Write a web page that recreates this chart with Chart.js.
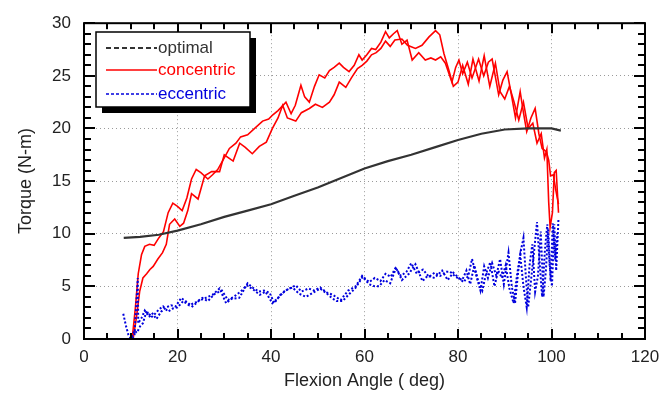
<!DOCTYPE html>
<html>
<head>
  <meta http-equiv="Content-type" content="text/html; charset=utf-8">
  <title>Torque vs Flexion Angle</title>
  <style>
    html, body { margin: 0; padding: 0; background: #fff; }
    #wrap { width: 668px; height: 396px; }
  </style>
</head>
<body>
  <div id="wrap">
    <canvas id="canvas" width="668" height="396"></canvas>
  </div>

  <script src="https://cdn.jsdelivr.net/npm/chart.js"></script>

  <script>
    // optimal torque curve
    const optimalX = [8.5, 12, 16, 20, 25, 30, 35, 40, 45, 50, 55, 60, 65, 70, 75, 80, 85, 90, 95, 100, 102];
    const optimalY = [9.6, 9.7, 9.9, 10.3, 10.9, 11.6, 12.2, 12.8, 13.6, 14.4, 15.3, 16.2, 16.9, 17.5, 18.2, 18.9, 19.5, 19.9, 20.0, 20.0, 19.8];

    // concentric, first trial
    const conc1X = [10.3, 11.0, 11.6, 12.3, 13.0, 14.0, 15.0, 16.0, 17.0, 18.0, 19.0, 20.0, 21.0, 22.0, 23.0, 24.0, 25.0, 26.5, 27.5, 28.6, 30.0, 31.1, 32.5, 33.5, 35.0, 36.5, 38.2, 39.5, 40.4, 41.5, 43.2, 44.3, 45.2, 46.4, 47.2, 48.2, 49.3, 50.3, 51.5, 52.5, 53.5, 54.6, 55.5, 56.7, 57.8, 58.8, 59.5, 60.5, 61.5, 62.4, 63.5, 64.5, 65.3, 66.2, 67.0, 68.0, 69.1, 70.2, 71.6, 73.0, 74.2, 75.2, 76.3, 77.3, 78.7, 79.5, 80.2, 81.0, 82.0, 83.0, 84.4, 85.5, 86.5, 87.3, 88.7, 89.6, 90.5, 91.5, 92.3, 93.3, 94.0, 94.7, 95.6, 96.5, 97.3, 98.0, 98.9, 99.4, 99.8, 100.4, 100.9, 101.5];
    const conc1Y = [0, 3.0, 6.2, 8.0, 8.8, 9.0, 8.9, 9.6, 10.2, 12.0, 12.9, 12.6, 12.2, 13.4, 15.2, 16.1, 15.8, 15.2, 15.6, 16.1, 17.2, 18.1, 18.6, 19.2, 19.4, 20.0, 20.7, 20.9, 21.3, 21.7, 22.5, 21.4, 22.2, 24.1, 23.0, 22.5, 24.0, 25.1, 24.8, 25.5, 25.8, 26.2, 25.8, 25.4, 26.0, 27.0, 26.5, 27.0, 27.6, 27.5, 28.2, 29.2, 28.6, 29.0, 29.3, 28.0, 28.4, 26.5, 27.2, 26.5, 26.7, 26.5, 26.8, 26.2, 24.4, 25.8, 26.5, 25.2, 26.3, 24.8, 26.6, 25.0, 26.3, 26.6, 23.2, 24.6, 25.4, 23.0, 21.0, 23.5, 21.5, 19.7, 21.0, 21.9, 19.5, 18.1, 17.8, 17.0, 15.5, 15.6, 14.2, 12.8];

    // concentric, second trial
    const conc2X = [10.5, 11.2, 11.9, 12.6, 13.4, 14.1, 14.8, 15.8, 16.8, 17.6, 18.3, 19.4, 20.5, 21.3, 22.2, 23.0, 24.4, 25.8, 27.3, 29.0, 30.0, 31.9, 33.3, 34.5, 36.0, 37.5, 39.0, 40.3, 41.5, 42.5, 43.5, 45.3, 46.5, 48.2, 49.5, 51.0, 52.5, 53.5, 54.6, 56.0, 57.2, 58.5, 59.5, 60.5, 61.5, 62.5, 63.5, 64.5, 65.5, 66.5, 68.0, 69.2, 70.9, 72.3, 73.8, 75.2, 76.1, 77.0, 78.0, 79.0, 80.0, 81.0, 82.2, 83.2, 84.5, 85.6, 86.8, 88.0, 89.0, 90.0, 91.0, 92.0, 93.0, 94.0, 95.0, 96.0, 96.9, 97.8, 98.5, 99.0, 99.4, 99.7, 100.2, 100.6, 101.0, 101.5];
    const conc2Y = [0, 2.0, 4.5, 5.8, 6.2, 6.6, 6.9, 7.6, 8.2, 9.0, 10.9, 11.4, 10.7, 11.0, 12.2, 13.8, 13.3, 15.5, 15.9, 15.9, 17.5, 16.9, 18.6, 18.2, 17.6, 18.3, 18.7, 20.0, 21.0, 22.2, 21.0, 20.7, 21.5, 21.9, 22.3, 22.0, 22.5, 23.2, 24.4, 23.9, 24.8, 25.7, 26.0, 26.4, 27.0, 27.2, 27.6, 28.3, 27.8, 28.4, 28.5, 27.9, 27.6, 27.9, 28.7, 29.3, 28.9, 27.1, 25.6, 24.0, 24.4, 26.0, 24.2, 26.6, 24.5, 26.9, 24.0, 26.2, 23.5, 22.8, 24.0, 22.5, 20.8, 22.5, 20.0, 20.5, 18.6, 19.5, 17.2, 18.0, 13.0, 10.6, 12.0, 15.8, 16.0, 12.0];

    // eccentric, first trial
    const ecc1X = [8.4, 9.0, 9.5, 10.1, 10.8, 11.5, 11.6, 12.3, 13.0, 13.8, 14.5, 15.5, 16.5, 17.6, 18.6, 19.6, 20.8, 22.0, 23.2, 24.5, 26.0, 27.5, 29.0, 30.4, 31.5, 33.2, 35.0, 36.0, 37.4, 38.5, 39.7, 40.7, 42.0, 43.5, 45.3, 46.5, 48.0, 49.2, 50.5, 52.0, 53.2, 54.9, 56.5, 58.1, 59.5, 61.0, 62.2, 63.4, 64.5, 65.6, 66.7, 68.0, 69.5, 70.9, 72.4, 73.5, 75.0, 76.6, 77.8, 79.0, 80.2, 81.2, 82.2, 83.0, 83.8, 84.8, 85.6, 86.4, 87.3, 88.2, 89.0, 89.8, 90.8, 91.5, 92.2, 92.9, 93.5, 94.0, 94.5, 95.0, 95.6, 96.2, 96.9, 97.5, 98.0, 98.6, 99.1, 99.6, 100.1, 100.6, 101.0, 101.5];
    const ecc1Y = [2.4, 1.2, 0.4, 0.0, 0.3, 5.8, 1.5, 2.0, 2.7, 2.2, 2.5, 1.9, 2.6, 3.0, 3.2, 3.1, 3.9, 3.5, 3.1, 3.6, 3.9, 4.2, 4.8, 3.4, 3.8, 3.9, 5.3, 4.9, 4.5, 4.6, 4.4, 3.4, 4.2, 4.7, 5.1, 4.5, 4.8, 4.6, 4.9, 4.4, 4.2, 3.7, 4.6, 5.0, 6.0, 5.4, 5.8, 5.5, 6.2, 5.9, 6.8, 5.6, 6.2, 7.1, 5.5, 6.0, 5.8, 6.5, 5.6, 6.3, 5.8, 5.4, 6.0, 7.6, 6.2, 4.6, 6.9, 5.8, 7.2, 6.0, 7.6, 5.2, 8.2, 5.0, 3.4, 6.5, 8.5, 9.6, 6.0, 3.0, 5.5, 8.0, 11.1, 7.0, 4.0, 8.5, 10.9, 7.0, 5.0, 10.9, 6.5, 11.5];

    // eccentric, second trial
    const ecc2X = [10.2, 10.8, 11.3, 12.0, 12.6, 13.4, 14.2, 15.0, 16.0, 16.9, 18.0, 19.0, 20.0, 21.2, 22.5, 24.0, 25.3, 26.5, 28.0, 29.5, 30.8, 32.0, 33.5, 34.8, 36.2, 37.6, 38.8, 40.3, 41.5, 43.0, 44.6, 46.0, 47.5, 49.0, 50.5, 52.0, 53.0, 54.0, 55.3, 56.8, 58.0, 59.6, 61.0, 62.2, 63.1, 64.3, 65.5, 66.7, 67.8, 69.0, 70.0, 71.2, 72.5, 73.8, 75.0, 76.2, 77.5, 78.3, 79.5, 80.9, 81.8, 82.6, 83.5, 84.3, 85.2, 86.0, 86.9, 87.8, 88.6, 89.4, 90.2, 91.0, 91.9, 92.6, 93.3, 94.0, 94.7, 95.3, 95.9, 96.5, 97.1, 97.7, 98.3, 98.8, 99.3, 99.8, 100.3, 100.8, 101.2];
    const ecc2Y = [0.2, 0.8, 0.6, 1.2, 1.5, 2.7, 2.0, 2.3, 2.8, 3.1, 2.6, 2.9, 3.0, 3.6, 3.2, 3.5, 3.9, 3.6, 4.3, 4.6, 3.7, 4.0, 4.5, 5.1, 4.7, 4.2, 4.5, 3.4, 3.9, 4.6, 4.9, 4.3, 4.0, 4.4, 4.8, 4.3, 3.9, 3.6, 3.6, 4.3, 4.8, 5.9, 5.2, 5.0, 5.0, 5.6, 5.3, 6.7, 6.0, 6.4, 7.2, 6.2, 6.6, 5.9, 6.3, 6.0, 6.4, 6.4, 5.9, 5.6, 6.5, 5.2, 7.0, 5.5, 4.6, 6.2, 7.3, 5.0, 6.5, 5.8, 7.0, 4.8, 3.4, 6.0, 8.0, 5.0, 3.0, 7.0, 9.0, 4.5, 6.0, 10.2, 4.0, 6.5, 10.5, 5.5, 11.0, 7.5, 10.0];

    const legendLabels = ['optimal', 'concentric', 'eccentric'];
    const legendColors = ['#333333', '#ff0000', '#0000dd'];

    const FONT = '"Liberation Sans", Arial, sans-serif';

    function pts(xs, ys) {
      return xs.map((x, i) => ({ x: x, y: ys[i] }));
    }

    function lineSet(label, xs, ys, color, width, dash) {
      return {
        label: label,
        data: pts(xs, ys),
        borderColor: color,
        borderWidth: width,
        borderDash: dash,
        showLine: true,
        pointRadius: 0,
        fill: false,
        tension: 0
      };
    }

    // frame, inside ticks (major + minor) and the boxed legend
    const framePlugin = {
      id: 'frame',
      afterDraw(chart) {
        const c = chart.ctx;
        const a = chart.chartArea;
        const sx = chart.scales.x, sy = chart.scales.y;
        c.save();
        c.setLineDash([]);
        c.fillStyle = '#000';

        for (let v = 0; v <= 120; v += 5) {
          const p = Math.round(sx.getPixelForValue(v));
          const len = v % 20 === 0 ? 10 : 6;
          c.fillRect(p - 1, a.bottom - len, 2, len);
          c.fillRect(p - 1, a.top, 2, len);
        }
        for (let v = 0; v <= 30; v += 1) {
          const p = Math.round(sy.getPixelForValue(v));
          const len = v % 5 === 0 ? 11 : 7;
          c.fillRect(a.left, p - 1, len, 2);
          c.fillRect(a.right - len, p - 1, len, 2);
        }

        c.strokeStyle = '#000';
        c.lineWidth = 2;
        c.strokeRect(a.left, a.top, a.right - a.left, a.bottom - a.top);

        // legend box with drop shadow
        const bx = 96, by = 32, bw = 154, bh = 75;
        c.fillStyle = '#000';
        c.fillRect(bx + 6, by + 6, bw, bh);
        c.fillStyle = '#fff';
        c.fillRect(bx, by, bw, bh);
        c.lineWidth = 1.5;
        c.strokeRect(bx, by, bw, bh);

        const rows = [48, 70, 94];
        const dashes = [[5, 3], [], [3, 2]];
        c.font = '17px ' + FONT;
        c.textBaseline = 'middle';
        legendLabels.forEach((lab, i) => {
          c.strokeStyle = legendColors[i];
          c.lineWidth = i === 0 ? 2 : 1.5;
          c.setLineDash(dashes[i]);
          c.beginPath();
          c.moveTo(106, rows[i]);
          c.lineTo(157, rows[i]);
          c.stroke();
          c.fillStyle = legendColors[i];
          c.fillText(lab, 158, rows[i]);
        });
        c.restore();
      }
    };

    const ctx = document.getElementById('canvas').getContext('2d');

    const chart = new Chart(ctx, {
      type: 'scatter',
      data: {
        datasets: [
          lineSet('optimal', optimalX, optimalY, '#333333', 2.2, []),
          lineSet('eccentric', ecc1X, ecc1Y, '#0000dd', 2, [2, 2]),
          lineSet('eccentric', ecc2X, ecc2Y, '#0000dd', 2, [2, 2]),
          lineSet('concentric', conc1X, conc1Y, '#ff0000', 1.6, []),
          lineSet('concentric', conc2X, conc2Y, '#ff0000', 1.6, [])
        ]
      },
      options: {
        responsive: false,
        animation: false,
        layout: { padding: { left: 0, top: 21, right: 23, bottom: 0 } },
        plugins: {
          legend: { display: false },
          tooltip: { enabled: false }
        },
        scales: {
          x: {
            type: 'linear',
            min: 0,
            max: 120,
            afterFit(scale) { scale.height = 57; },
            ticks: {
              stepSize: 20,
              padding: 8,
              color: '#222',
              font: { family: FONT, size: 17 }
            },
            grid: { color: '#9a9a9a', lineWidth: 1, drawTicks: false },
            border: { display: false, dash: [1, 3] },
            title: {
              display: true,
              text: 'Flexion Angle ( deg)',
              color: '#222',
              font: { family: FONT, size: 18 },
              padding: { top: 0, bottom: 4 }
            }
          },
          y: {
            min: 0,
            max: 30,
            afterFit(scale) { scale.width = 84; },
            ticks: {
              stepSize: 5,
              padding: 13,
              color: '#222',
              font: { family: FONT, size: 17 }
            },
            grid: { color: '#9a9a9a', lineWidth: 1, drawTicks: false },
            border: { display: false, dash: [1, 3] },
            title: {
              display: true,
              text: 'Torque (N-m)',
              color: '#222',
              font: { family: FONT, size: 18 },
              padding: { top: 15, bottom: 0 }
            }
          }
        }
      },
      plugins: [framePlugin]
    });
  </script>
</body>
</html>
